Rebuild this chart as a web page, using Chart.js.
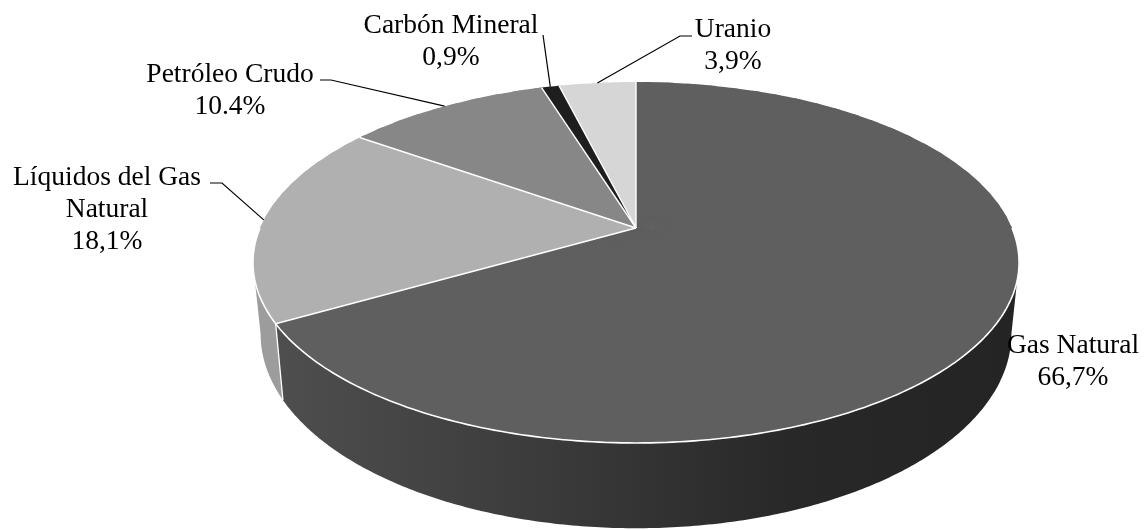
<!DOCTYPE html>
<html><head><meta charset="utf-8">
<script src="https://cdn.jsdelivr.net/npm/chart.js@4/dist/chart.umd.min.js"></script>
<style>html,body{margin:0;padding:0;background:#fff;overflow:hidden}canvas{display:block}</style>
</head><body>
<canvas id="c" width="1147" height="530"></canvas>
<script>
// ---- data ----
const categories = ['Gas Natural', 'Líquidos del Gas Natural', 'Petróleo Crudo', 'Carbón Mineral', 'Uranio'];
const shares = [66.7, 18.1, 10.4, 0.9, 3.9];
const shareLabels = ['66,7%', '18,1%', '10.4%', '0,9%', '3,9%'];
const labelLines = [['Gas Natural'], ['Líquidos del Gas', 'Natural'], ['Petróleo Crudo'], ['Carbón Mineral'], ['Uranio']];

// ---- styles / layout ----
const topColors = ['#5f5f5f', '#b0b0b0', '#878787', '#1e1e1e', '#d6d6d6'];
const sideStops = [
  [[0, '#505050'], [0.45, '#373737'], [0.7, '#282828'], [1, '#242424']],
  [[0, '#9c9c9c'], [1, '#a8a8a8']],
  [[0, '#767676'], [1, '#767676']],
  [[0, '#181818'], [1, '#181818']],
  [[0, '#c2c2c2'], [1, '#c2c2c2']]
];
// perspective view of the pie: apex, half-width, half-height, perspective factor, depth
const PX = 636, PY = 228, PA = 376, PB = 173.9, PK = 0.191, D0 = 69, BS = 0.98;
const FONT = '27.5px "Liberation Serif", "Times New Roman", serif';
const LINE_H = 32;
const labelPos = [
  {x: 1073, y: 353, leader: null},
  {x: 107, y: 185, leader: [[210, 183], [222, 183]]},
  {x: 230, y: 82, leader: [[320, 80], [331, 80]]},
  {x: 451, y: 33, leader: [[543, 35]]},
  {x: 733, y: 37, leader: [[692, 36], [680, 36]]}
];

function proj(u, v) { const w = 1 - PK * v; return [PX + PA * u / w, PY + PB * v / w]; }
function rim(t) { return proj(Math.cos(t), Math.sin(t)); }
function rimBottom(t) {
  const p = rim(t);
  return [PX + (p[0] - PX) * BS, p[1] + D0 / (1 - PK * Math.sin(t))];
}

const pie3d = {
  id: 'pie3d',
  beforeDatasetsDraw(chart) {
    const ctx = chart.ctx;
    const arcs = chart.getDatasetMeta(0).data;
    const TS = Math.asin(PK);
    // ---- side walls ----
    arcs.forEach((arc, i) => {
      const p = arc.getProps(['startAngle', 'endAngle'], true);
      [[TS, Math.PI - TS], [2 * Math.PI + TS, 3 * Math.PI - TS]].forEach(([lo, hi]) => {
        const a = Math.max(p.startAngle, lo), b = Math.min(p.endAngle, hi);
        if (b <= a) return;
        const g = ctx.createLinearGradient(PX - 383, 0, PX + 383, 0);
        sideStops[i].forEach(s => g.addColorStop(s[0], s[1]));
        const n = Math.max(2, Math.ceil((b - a) / 0.01));
        ctx.save();
        ctx.fillStyle = g;
        ctx.beginPath();
        for (let j = 0; j <= n; j++) {
          const q = rim(a + (b - a) * j / n);
          j ? ctx.lineTo(q[0], q[1]) : ctx.moveTo(q[0], q[1]);
        }
        for (let j = n; j >= 0; j--) {
          const q = rimBottom(a + (b - a) * j / n);
          ctx.lineTo(q[0], q[1]);
        }
        ctx.closePath();
        ctx.fill();
        ctx.restore();
      });
    });
    // wall separators
    ctx.save();
    ctx.strokeStyle = '#ffffff';
    ctx.lineWidth = 1.3;
    arcs.forEach(arc => {
      const a = arc.getProps(['startAngle'], true).startAngle;
      const na = ((a % (2 * Math.PI)) + 2 * Math.PI) % (2 * Math.PI);
      if (na > TS + 0.02 && na < Math.PI - TS - 0.02) {
        const t = rim(na), bt = rimBottom(na);
        ctx.beginPath(); ctx.moveTo(t[0], t[1]); ctx.lineTo(bt[0], bt[1]); ctx.stroke();
      }
    });
    ctx.restore();

    // ---- top face: library arcs drawn through piecewise-affine perspective ----
    const a0 = arcs[0];
    const ax = a0.x, ay = a0.y, R = a0.outerRadius;
    const O = proj(0, 0);
    const N = 90, eps = 0.012;
    for (let j = 0; j < N; j++) {
      const t0 = j * 2 * Math.PI / N, t1 = (j + 1) * 2 * Math.PI / N;
      const c0 = Math.cos(t0), s0 = Math.sin(t0), c1 = Math.cos(t1), s1 = Math.sin(t1);
      const P0 = rim(t0), P1 = rim(t1);
      const d0 = [P0[0] - O[0], P0[1] - O[1]], d1 = [P1[0] - O[0], P1[1] - O[1]];
      const det = c0 * s1 - c1 * s0;
      const e1 = [(d0[0] * s1 - d1[0] * s0) / det, (d0[1] * s1 - d1[1] * s0) / det];
      const e2 = [(c0 * d1[0] - c1 * d0[0]) / det, (c0 * d1[1] - c1 * d0[1]) / det];
      ctx.save();
      ctx.transform(e1[0] / R, e1[1] / R, e2[0] / R, e2[1] / R,
        O[0] - (e1[0] * ax + e2[0] * ay) / R, O[1] - (e1[1] * ax + e2[1] * ay) / R);
      const tm = (t0 + t1) / 2;
      ctx.beginPath();
      ctx.moveTo(ax - 0.03 * R * Math.cos(tm), ay - 0.03 * R * Math.sin(tm));
      ctx.lineTo(ax + 1.3 * R * Math.cos(t0 - eps), ay + 1.3 * R * Math.sin(t0 - eps));
      ctx.lineTo(ax + 1.3 * R * Math.cos(t1 + eps), ay + 1.3 * R * Math.sin(t1 + eps));
      ctx.closePath();
      ctx.clip();
      arcs.forEach(arc => arc.draw(ctx));
      ctx.restore();
    }

    // ---- white edges ----
    ctx.save();
    ctx.strokeStyle = '#ffffff';
    ctx.lineWidth = 1.4;
    arcs.forEach(arc => {
      const a = arc.getProps(['startAngle'], true).startAngle;
      const q = rim(a);
      ctx.beginPath(); ctx.moveTo(O[0], O[1]); ctx.lineTo(q[0], q[1]); ctx.stroke();
    });
    ctx.lineWidth = 1.6;
    ctx.beginPath();
    for (let j = 0; j <= 200; j++) {
      const q = rim(Math.PI * j / 200);
      j ? ctx.lineTo(q[0], q[1]) : ctx.moveTo(q[0], q[1]);
    }
    ctx.stroke();
    ctx.restore();
    return false;
  },
  afterDraw(chart) {
    const ctx = chart.ctx;
    const arcs = chart.getDatasetMeta(0).data;
    ctx.save();
    ctx.font = FONT;
    ctx.fillStyle = '#000';
    ctx.textAlign = 'center';
    ctx.textBaseline = 'alphabetic';
    labelPos.forEach((lp, i) => {
      const lines = labelLines[i].concat([shareLabels[i]]);
      lines.forEach((t, k) => ctx.fillText(t, lp.x, lp.y + k * LINE_H));
      if (lp.leader) {
        const p = arcs[i].getProps(['startAngle', 'endAngle'], true);
        const e = rim((p.startAngle + p.endAngle) / 2);
        ctx.strokeStyle = '#000';
        ctx.lineWidth = 1.2;
        ctx.beginPath();
        ctx.moveTo(e[0], e[1]);
        lp.leader.slice().reverse().forEach(q => ctx.lineTo(q[0], q[1]));
        ctx.stroke();
      }
    });
    ctx.restore();
  }
};

new Chart(document.getElementById('c').getContext('2d'), {
  type: 'pie',
  data: {
    labels: categories,
    datasets: [{data: shares, backgroundColor: topColors, borderWidth: 0, clip: false}]
  },
  options: {
    responsive: false,
    animation: false,
    events: [],
    layout: {padding: 0},
    plugins: {legend: {display: false}, tooltip: {enabled: false}}
  },
  plugins: [pie3d]
});
</script>
</body></html>
